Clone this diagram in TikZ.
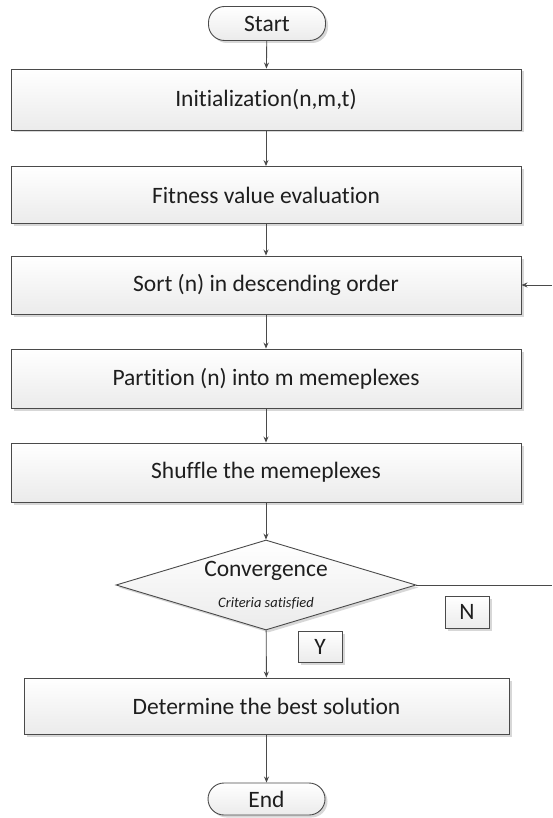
\documentclass[tikz,border=0pt]{standalone}
\usepackage{fontspec}
\setmainfont[Ligatures={NoCommon}]{Carlito}
\usetikzlibrary{shapes.geometric,shadows,arrows.meta}
\definecolor{edge}{HTML}{4A4A4A}
\definecolor{ink}{HTML}{1E1E1E}
\definecolor{boxbot}{HTML}{EBEBEB}
\tikzset{
  boxbase/.style={draw=edge, line width=0.9pt, top color=white, bottom color=boxbot,
    drop shadow={shadow xshift=2.5pt, shadow yshift=-2.5pt, fill=black!35, opacity=0.45},
    inner sep=0pt, text=ink, font=\fontsize{23.5}{27}\selectfont},
  procbox/.style={boxbase, rectangle, minimum width=510pt, minimum height=59pt},
  termbox/.style={boxbase, rectangle, rounded corners=16pt, minimum width=117pt, minimum height=34pt},
  decbox/.style={boxbase, diamond, minimum width=300pt, minimum height=90pt},
  tagbox/.style={boxbase, rectangle, minimum width=44pt, minimum height=31pt},
  txt/.style={text=ink, inner sep=0pt},
  flow/.style={draw=edge, line width=0.9pt, -{Stealth[length=6pt,width=5pt]}},
  plain/.style={draw=edge, line width=0.9pt}
}
\begin{document}
\begin{tikzpicture}[x=1pt,y=-1pt]
\useasboundingbox (0,0) rectangle (552,818);
\node[termbox] (start) at (267,23.5) {Start};
\node[procbox, minimum height=61pt] (init) at (266,99.5) {Initialization(n,m,t)};
\node[procbox, minimum height=57pt] (fit) at (266,195) {Fitness value evaluation};
\node[procbox, minimum height=58pt] (sort) at (266,285) {Sort (n) in descending order};
\node[procbox] (part) at (266,378.5) {Partition (n) into m memeplexes};
\node[procbox] (shuf) at (266,472.5) {Shuffle the memeplexes};
\node[decbox] (dia) at (266,585) {};
\node[txt, font=\fontsize{23.5}{27}\selectfont] (conv) at (266,571) {Convergence};
\node[txt, font=\fontsize{14.5}{17}\selectfont\itshape] (crit) at (266,603) {Criteria satisfied};
\node[tagbox, minimum height=32pt] (ntag) at (467,612) {N};
\node[tagbox] (ytag) at (320,646.5) {Y};
\node[procbox, minimum width=485pt, minimum height=56pt] (det) at (266.5,706) {Determine the best solution};
\node[termbox, minimum height=32pt] (end) at (266.5,799) {End};
\coordinate (loopa) at (552,585);
\coordinate (loopb) at (552,285);
\draw[flow] (start) -- (init);
\draw[flow] (init) -- (fit);
\draw[flow] (fit) -- (sort);
\draw[flow] (sort) -- (part);
\draw[flow] (part) -- (shuf);
\draw[flow] (shuf) -- (dia);
\draw[flow] (dia) -- (det);
\draw[flow] (det) -- (end);
\draw[plain] (dia.east) -- (loopa);
\draw[flow] (loopb) -- (sort.east);
\end{tikzpicture}
\end{document}
